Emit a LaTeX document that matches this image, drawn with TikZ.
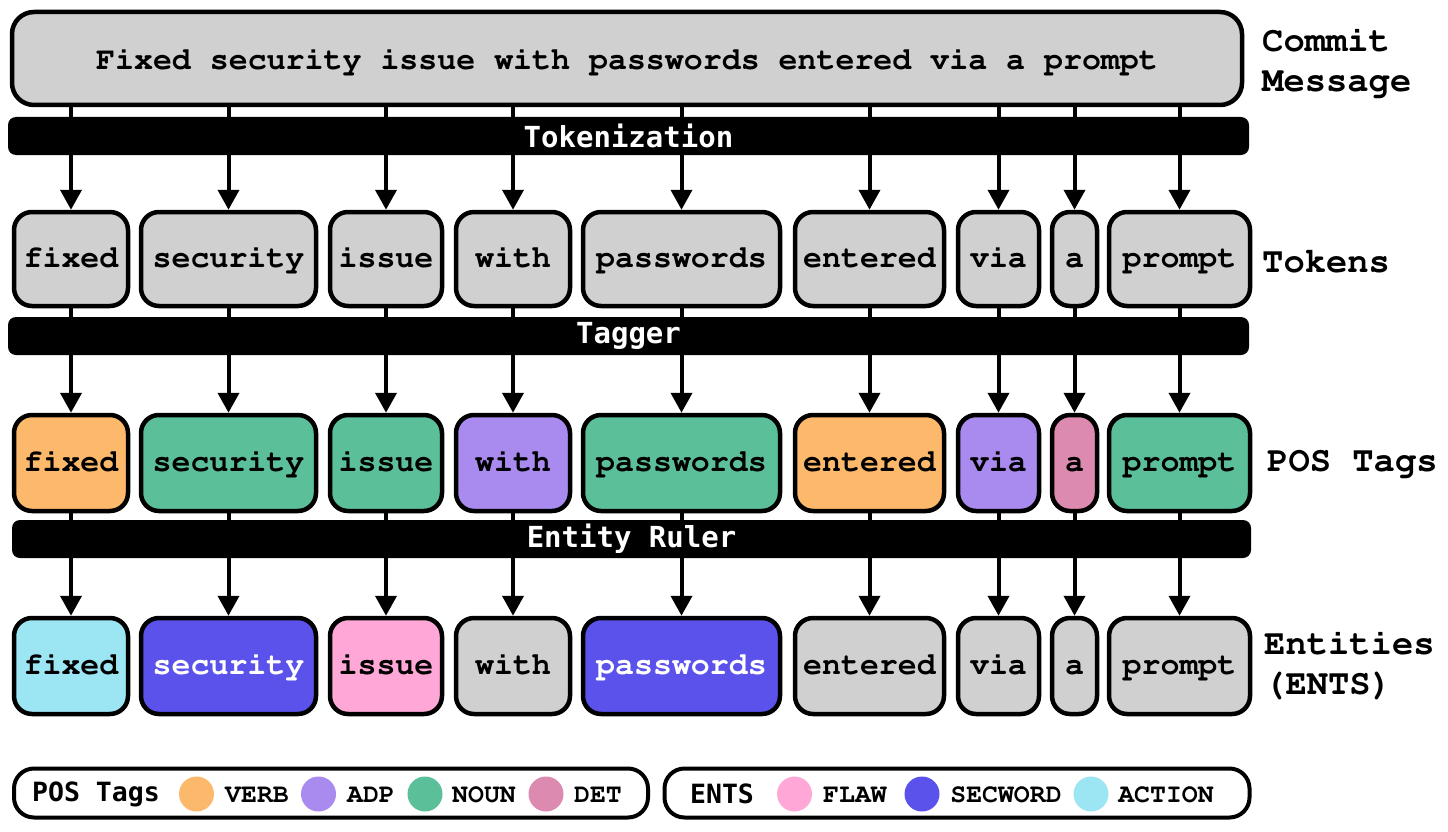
\documentclass[tikz,border=0pt]{standalone}
\usepackage[T1]{fontenc}
\usepackage{fontspec}
\usetikzlibrary{arrows.meta,shapes.geometric}
\newcommand\cour{\fontencoding{T1}\fontfamily{pcr}\fontseries{b}\selectfont}
\newfontfamily\dmono{DejaVu Sans Mono}
\definecolor{cgray}{HTML}{D0D0D0}
\definecolor{cverb}{HTML}{FDB96B}
\definecolor{cadp}{HTML}{A98AEE}
\definecolor{cnoun}{HTML}{5BC09A}
\definecolor{cdet}{HTML}{DC8AB0}
\definecolor{cflaw}{HTML}{FFA8D8}
\definecolor{csec}{HTML}{5B52EC}
\definecolor{cact}{HTML}{9CE6F4}
\begin{document}
\begin{tikzpicture}[x=1pt,y=-1pt,
  tokbox/.style={draw=black, line width=4.5pt, rounded corners=18pt, inner sep=0pt,
    text height=22pt, text depth=5pt,
    font=\cour\fontsize{31.6}{34}\selectfont},
  barbox/.style={fill=black, rounded corners=8pt, inner sep=0pt, text=white,
    minimum height=38pt, font=\dmono\bfseries\fontsize{29}{32}\selectfont},
  arr/.style={line width=4pt, -{Triangle[length=20pt,width=21pt]}},
  linkline/.style={line width=4pt},
  rowlabel/.style={anchor=west, align=left, inner sep=0pt,
    font=\cour\fontsize{35.5}{40}\selectfont},
  legbox/.style={draw=black, line width=4pt, rounded corners=20pt, minimum height=49pt, inner sep=0pt},
  leghead/.style={inner sep=0pt, font=\dmono\bfseries\fontsize{26.5}{30}\selectfont},
  legtext/.style={inner sep=0pt, font=\cour\fontsize{26.5}{30}\selectfont},
  legdot/.style={ellipse, minimum width=35pt, minimum height=35pt, inner sep=0pt}
]
\useasboundingbox (0,0) rectangle (1448,832);

% commit message
\node[tokbox, rounded corners=22pt, fill=cgray, text height=28pt, text depth=5pt, minimum width=1230pt, minimum height=93pt] (cm) at (627,58.5)
  {Fixed security issue with passwords entered via a prompt};

% bars
\node[barbox, minimum width=1241pt] (b1) at (628.5,136) {Tokenization};
\node[barbox, minimum width=1241pt] (b2) at (628.5,336) {Tagger};
\node[barbox, minimum width=1239pt] (b3) at (631.5,539) {Entity Ruler};

% tokens
\foreach \n/\x/\w/\t in {1/71/114/fixed, 2/228.5/175/security, 3/386/112/issue, 4/513/114/with,
  5/681.5/197/passwords, 6/869.5/149/entered, 7/998.5/81/via, 8/1074.5/45/a, 9/1179.5/141/prompt}
  \node[tokbox, fill=cgray, minimum width=\w pt, minimum height=94pt] (t\n) at (\x,259) {\t};

% POS tags
\foreach \n/\x/\w/\t/\c in {1/71/114/fixed/cverb, 2/228.5/175/security/cnoun, 3/386/112/issue/cnoun,
  4/513/114/with/cadp, 5/681.5/197/passwords/cnoun, 6/869.5/149/entered/cverb, 7/998.5/81/via/cadp,
  8/1074.5/45/a/cdet, 9/1179.5/141/prompt/cnoun}
  \node[tokbox, fill=\c, minimum width=\w pt, minimum height=96pt] (p\n) at (\x,463) {\t};

% entities
\foreach \n/\x/\w/\t/\c/\tc in {1/71/114/fixed/cact/black, 2/228.5/175/security/csec/white,
  3/386/112/issue/cflaw/black, 4/513/114/with/cgray/black, 5/681.5/197/passwords/csec/white,
  6/869.5/149/entered/cgray/black, 7/998.5/81/via/cgray/black, 8/1074.5/45/a/cgray/black,
  9/1179.5/141/prompt/cgray/black}
  \node[tokbox, fill=\c, text=\tc, minimum width=\w pt, minimum height=96pt] (e\n) at (\x,666) {\t};

% connectors
\foreach \i in {1,...,9} {
  \draw[linkline] (cm.south -| t\i) -- (b1.north -| t\i);
  \draw[arr] (b1.south -| t\i) -- (t\i.north);
  \draw[linkline] (t\i.south) -- (b2.north -| t\i);
  \draw[arr] (b2.south -| t\i) -- (p\i.north);
  \draw[linkline] (p\i.south) -- (b3.north -| p\i);
  \draw[arr] (b3.south -| p\i) -- (e\i.north);
}

% row labels
\node[rowlabel] (l1) at (1262,62) {Commit\\Message};
\node[rowlabel] (l2) at (1262,262) {Tokens};
\node[rowlabel] (l3) at (1267,463) {POS Tags};
\node[rowlabel] (l4) at (1264,665) {Entities\\(ENTS)};

% legends
\node[legbox, minimum width=634pt] (lp) at (331,793) {};
\node[legbox, minimum width=585pt] (le) at (957,793) {};
\node[leghead] (lph) at (96,794) {POS Tags};
\node[legdot, fill=cverb] (d1) at (196.5,794) {};
\node[legtext] (x1) at (257,795) {VERB};
\node[legdot, fill=cadp] (d2) at (318.5,794) {};
\node[legtext] (x2) at (371,795) {ADP};
\node[legdot, fill=cnoun] (d3) at (425,794) {};
\node[legtext] (x3) at (484,795) {NOUN};
\node[legdot, fill=cdet] (d4) at (546,794) {};
\node[legtext] (x4) at (598,795) {DET};

\node[leghead] (leh) at (722,794) {ENTS};
\node[legdot, fill=cflaw] (d5) at (794.5,794) {};
\node[legtext] (x5) at (855,795) {FLAW};
\node[legdot, fill=csec] (d6) at (922,794) {};
\node[legtext] (x6) at (1006,795) {SECWORD};
\node[legdot, fill=cact] (d7) at (1091,794) {};
\node[legtext] (x7) at (1166,795) {ACTION};
\end{tikzpicture}
\end{document}
